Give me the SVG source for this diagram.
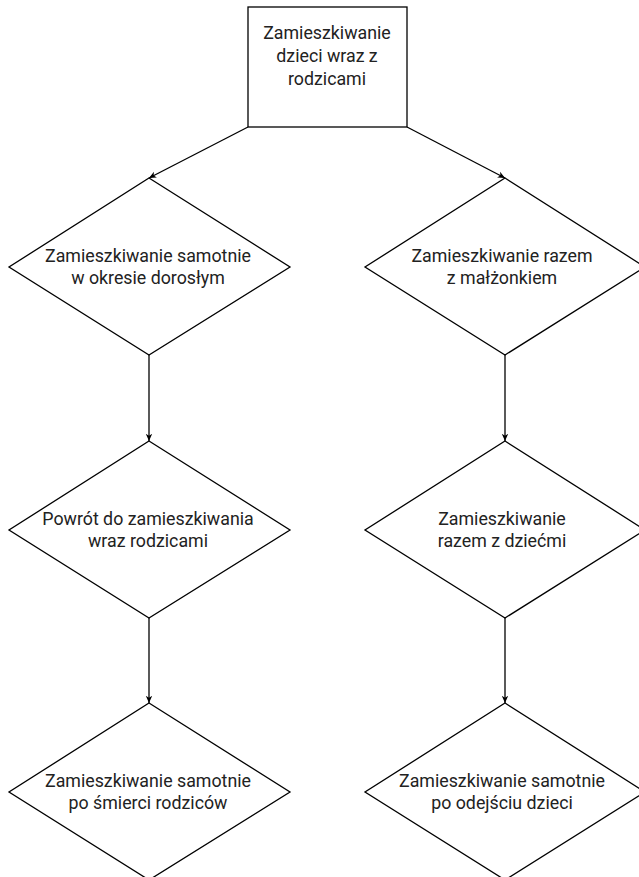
<svg xmlns="http://www.w3.org/2000/svg" width="639" height="877" viewBox="0 0 639 877">
<style>
.shape{fill:#fff;stroke:#000;stroke-width:1.3}
.conn{fill:none;stroke:#000;stroke-width:1.3}
text{font-family:Roboto,"Liberation Sans",sans-serif;font-size:17.8px;fill:#222;text-anchor:middle}
</style>
<defs>
<marker id="arr" viewBox="0 0 10 10" refX="9" refY="5" markerWidth="8" markerHeight="8" orient="auto" markerUnits="userSpaceOnUse">
<path d="M0,1 L9,5 L0,9 L2.5,5 Z" fill="#000"/>
</marker>
</defs>
<rect width="639" height="877" fill="#fff"/>
<g id="connectors">
<line class="conn" x1="248" y1="127" x2="149" y2="178" marker-end="url(#arr)"/>
<line class="conn" x1="407" y1="127" x2="505" y2="178" marker-end="url(#arr)"/>
<line class="conn" x1="149" y1="355" x2="149" y2="441" marker-end="url(#arr)"/>
<line class="conn" x1="149" y1="618" x2="149" y2="703" marker-end="url(#arr)"/>
<line class="conn" x1="505" y1="355" x2="505" y2="441" marker-end="url(#arr)"/>
<line class="conn" x1="505" y1="618" x2="505" y2="703" marker-end="url(#arr)"/>
</g>
<g id="start">
<rect class="shape" x="248" y="7" width="159" height="120"/>
<text x="327" y="39">Zamieszkiwanie</text>
<text x="327" y="62">dzieci wraz z</text>
<text x="327" y="85">rodzicami</text>
</g>
<g id="alone-adult">
<polygon class="shape" points="149,178 290,267 149,355 9,267"/>
<text x="148" y="262">Zamieszkiwanie samotnie</text>
<text x="148" y="284">w okresie dorosłym</text>
</g>
<g id="return-parents">
<polygon class="shape" points="149,441 290,530 149,618 9,530"/>
<text x="148" y="525">Powrót do zamieszkiwania</text>
<text x="148" y="547">wraz rodzicami</text>
</g>
<g id="alone-after-parents">
<polygon class="shape" points="149,703 290,792 149,880 9,792"/>
<text x="148" y="787">Zamieszkiwanie samotnie</text>
<text x="148" y="809">po śmierci rodziców</text>
</g>
<g id="spouse">
<polygon class="shape" points="505,178 645,267 505,355 365,267"/>
<text x="502" y="262">Zamieszkiwanie razem</text>
<text x="502" y="284">z małżonkiem</text>
</g>
<g id="children">
<polygon class="shape" points="505,441 645,530 505,618 365,530"/>
<text x="502" y="525">Zamieszkiwanie</text>
<text x="502" y="547">razem z dziećmi</text>
</g>
<g id="alone-after-children">
<polygon class="shape" points="505,703 645,792 505,880 365,792"/>
<text x="502" y="787">Zamieszkiwanie samotnie</text>
<text x="502" y="809">po odejściu dzieci</text>
</g>
</svg>
